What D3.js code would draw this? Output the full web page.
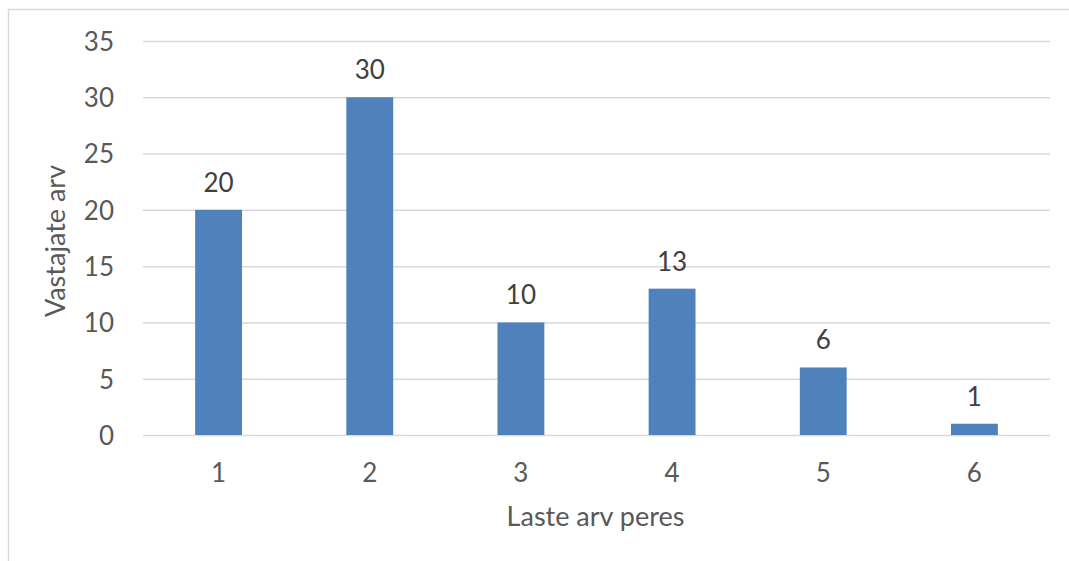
<!DOCTYPE html>
<html>
<head>
<meta charset="utf-8">
<script src="https://cdn.jsdelivr.net/npm/d3@7"></script>
<style>
  html, body { margin: 0; padding: 0; background: #fff; }
  svg { display: block; }
  text { font-family: Lato, "Open Sans", sans-serif; }
</style>
</head>
<body>
<svg id="chart" width="1069" height="561"></svg>
<script>
// Survey: number of children per family vs. number of respondents
const categories = ["1", "2", "3", "4", "5", "6"];
const counts = [20, 30, 10, 13, 6, 1];
const yTicks = [0, 5, 10, 15, 20, 25, 30, 35];
const xTitle = "Laste arv peres";
const yTitle = "Vastajate arv";

const svg = d3.select("#chart");
const W = 1069, H = 561;
const plot = { left: 143, right: 1050, top: 41, bottom: 435 };
const FS = 26;
const TITLE_FS = 27;

// chart frame (continues past the right and bottom edges)
svg.append("rect")
  .attr("x", 8.5).attr("y", 9.5)
  .attr("width", W + 10).attr("height", H + 10)
  .attr("fill", "#fff").attr("stroke", "#D9D9D9").attr("stroke-width", 1.5);

const x = d3.scaleBand().domain(categories).range([plot.left, plot.right]).padding(0);
const y = d3.scaleLinear().domain([0, 35]).range([plot.bottom, plot.top]);
const barW = x.bandwidth() * 0.31;

// horizontal gridlines
const yAxis = d3.axisLeft(y).tickValues(yTicks).tickSize(-(plot.right - plot.left)).tickPadding(29);
const gy = svg.append("g").attr("transform", `translate(${plot.left},0)`).call(yAxis);
gy.select(".domain").remove();
gy.selectAll(".tick line").attr("stroke", "#D9D9D9").attr("stroke-width", 1.5);
gy.selectAll(".tick text")
  .attr("fill", "#595959").attr("font-size", FS).attr("dy", "0.36em")
  .style("font-family", "Lato, 'Open Sans', sans-serif");

// bars
svg.append("g").selectAll("rect")
  .data(counts)
  .join("rect")
  .attr("x", (d, i) => x(categories[i]) + x.bandwidth() / 2 - barW / 2)
  .attr("width", barW)
  .attr("y", d => y(d))
  .attr("height", d => y(0) - y(d))
  .attr("fill", "#4F81BD");

// value labels
svg.append("g").selectAll("text")
  .data(counts)
  .join("text")
  .attr("x", (d, i) => x(categories[i]) + x.bandwidth() / 2)
  .attr("y", d => y(d) - 18)
  .attr("text-anchor", "middle")
  .attr("font-size", FS)
  .attr("fill", "#404040")
  .text(d => d);

// x axis (category labels, no ticks)
const xAxis = d3.axisBottom(x).tickSize(0).tickPadding(0);
const gx = svg.append("g").attr("transform", `translate(0,${plot.bottom})`).call(xAxis);
gx.select(".domain").remove();
gx.selectAll(".tick text")
  .attr("fill", "#595959").attr("font-size", FS)
  .attr("y", 47).attr("dy", 0)
  .style("font-family", "Lato, 'Open Sans', sans-serif");

// axis titles
svg.append("text")
  .attr("x", (plot.left + plot.right) / 2 - 1)
  .attr("y", 526)
  .attr("text-anchor", "middle")
  .attr("font-size", TITLE_FS)
  .attr("fill", "#595959")
  .text(xTitle);

svg.append("text")
  .attr("transform", `translate(65,${(plot.top + plot.bottom) / 2 + 3}) rotate(-90)`)
  .attr("text-anchor", "middle")
  .attr("font-size", TITLE_FS)
  .attr("fill", "#595959")
  .text(yTitle);
</script>
</body>
</html>
